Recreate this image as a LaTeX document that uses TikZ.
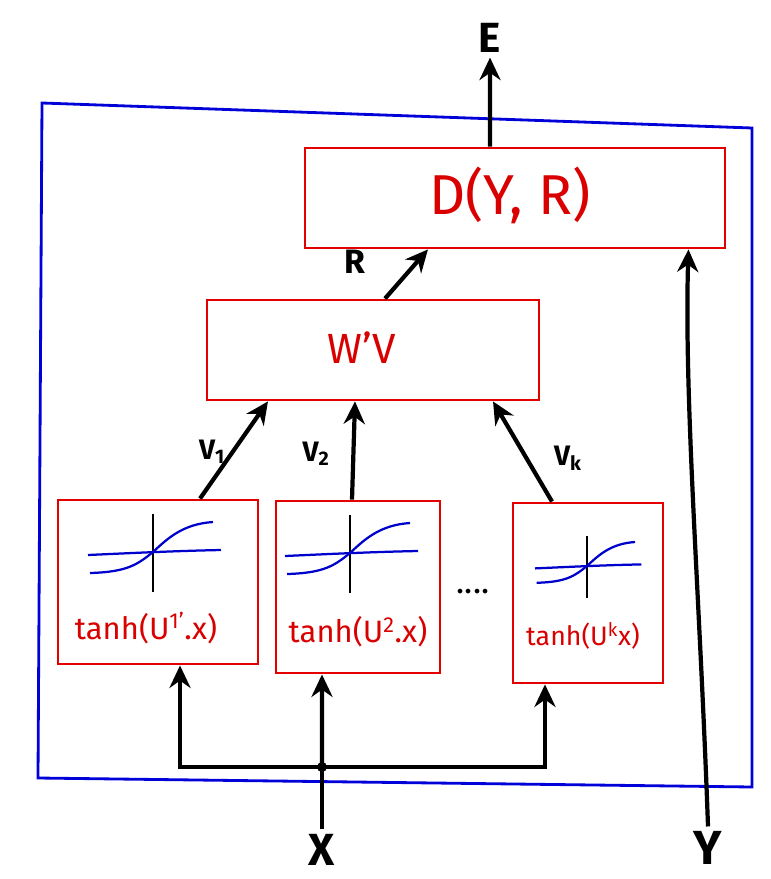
\documentclass[tikz,border=0pt]{standalone}
\usepackage{fontspec}
\setmainfont{Fira Sans}
\usetikzlibrary{positioning,arrows.meta}

\begin{document}
\begin{tikzpicture}[x=0.025cm, y=-0.025cm,
    box/.style={draw=red!90!black, line width=2pt, rectangle},
    boxtext/.style={text=red!85!black},
    lbl/.style={font=\bfseries},
    conn/.style={-{Stealth[length=16pt,width=15pt]}, line width=3pt},
    sigmoid/.pic={
        \draw[black, line width=1.6pt] (0,-38) -- (0,40);
        \draw[blue!80!black, line width=1.6pt] (-65,3) .. controls (-20,1) and (20,-1) .. (68,-2);
        \draw[blue!80!black, line width=1.6pt] (-63,21) .. controls (-25,20) and (-15,12) .. (0,0) .. controls (15,-14) and (30,-28) .. (60,-30);
    }]
    \useasboundingbox (0,0) rectangle (770,879);

    % Outer frame
    \draw[blue!85!black, line width=2pt] (42,103) -- (752,128) -- (752,787) -- (38,778) -- cycle;

    % Distance
    \node[box, minimum width=10.5cm, minimum height=2.5cm] (D) at (515,198) {};
    \node[boxtext, font=\fontsize{40}{44}\selectfont] (Dtext) at (510,195) {D(Y, R)};

    % Combination
    \node[box, minimum width=8.3cm, minimum height=2.5cm] (WV) at (373,350) {};
    \node[boxtext, font=\fontsize{30}{34}\selectfont] (WVtext) at (362,348) {W'V};

    % tanh units
    \node[box, minimum width=5cm, minimum height=4.1cm] (t1) at (158,582) {};
    \node[box, minimum width=4.1cm, minimum height=4.3cm] (t2) at (358,587) {};
    \node[box, minimum width=3.75cm, minimum height=4.5cm] (t3) at (588,593) {};
    \pic at (153,552) {sigmoid};
    \pic at (350,553) {sigmoid};
    \pic[scale=0.8] at (587,566) {sigmoid};
    \node[boxtext, font=\fontsize{22}{26}\selectfont] (t1text) at (146,628) {tanh(U\textsuperscript{1'}.x)};
    \node[boxtext, font=\fontsize{22}{26}\selectfont] (t2text) at (358,632) {tanh(U\textsuperscript{2}.x)};
    \node[boxtext, font=\fontsize{19}{22}\selectfont] (t3text) at (583,636) {tanh(U\textsuperscript{k}x)};
    \node[font=\fontsize{24}{26}\selectfont] (dots) at (473,592) {....};

    % Labels
    \node[lbl, font=\fontsize{30}{34}\selectfont\bfseries] (E) at (490,38) {E};
    \node[lbl, font=\fontsize{24}{28}\selectfont\bfseries] (R) at (355,262) {R};
    \node[lbl, font=\fontsize{20}{24}\selectfont\bfseries] (v1) at (212,452) {V\textsubscript{1}};
    \node[lbl, font=\fontsize{20}{24}\selectfont\bfseries] (v2) at (316,454) {V\textsubscript{2}};
    \node[lbl, font=\fontsize{20}{24}\selectfont\bfseries] (vk) at (568,458) {V\textsubscript{k}};
    \node[lbl, font=\fontsize{32}{34}\selectfont\bfseries] (X) at (322,850) {X};
    \node[lbl, font=\fontsize{34}{36}\selectfont\bfseries] (Y) at (708,848) {Y};

    % Connections
    \coordinate (jx) at (322,767);
    \draw[conn] ([xshift=1.05cm]t1.north) -- ([xshift=-2.625cm]WV.south);
    \draw[conn] ([xshift=-0.15cm]t2.north) -- ([xshift=-0.45cm]WV.south);
    \draw[conn] ([xshift=-0.9cm]t3.north) -- ([xshift=3cm]WV.south);
    \draw[conn] ([xshift=0.3cm]WV.north) -- ([xshift=-2.175cm]D.south);
    \draw[conn] ([xshift=-0.625cm]D.north) -- (E.south);
    \draw[line width=3pt] (X.north) -- (jx);
    \draw[conn] (jx) -- ([xshift=-0.9cm]t2.south);
    \draw[conn] (jx) -| ([xshift=0.55cm]t1.south);
    \draw[conn] (jx) -| ([xshift=-1.075cm]t3.south);
    \fill (jx) circle (5);
    \draw[conn] (Y.north) .. controls (700,600) and (684,400) .. ([xshift=-0.95cm]D.south east);
\end{tikzpicture}
\end{document}
